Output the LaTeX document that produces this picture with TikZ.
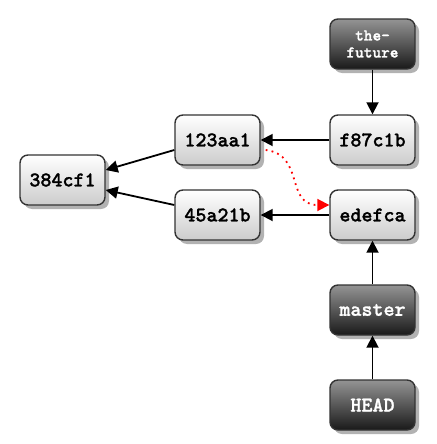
\documentclass[tikz,border=0pt]{standalone}
\usepackage{fontspec}
\setmonofont{lmmonolt10-regular.otf}[BoldFont=lmmonolt10-bold.otf, BoldFeatures={FakeBold=1.2}]
\usetikzlibrary{shadows,arrows.meta,calc}
\begin{document}
\begin{tikzpicture}[x=1pt,y=-1pt,
  commit/.style={rectangle, rounded corners=8pt, minimum width=85pt, minimum height=50pt,
    draw=black!80, line width=1.4pt, top color=white, bottom color=black!20,
    drop shadow={shadow xshift=4pt, shadow yshift=-4pt, fill=black!30, opacity=1},
    font=\ttfamily\bfseries\fontsize{21}{21}\selectfont, inner sep=0pt},
  refbox/.style={commit, top color=black!42, bottom color=black!90, text=white},
  arr/.style={line width=1.8pt, -{Triangle[length=12pt,width=12pt]}},
  redarr/.style={red, line width=1.8pt, dash pattern=on 1.8pt off 4.2pt, -{Triangle[length=12pt,width=12pt]}}
]
\useasboundingbox (0,0) rectangle (436,444);
\node[commit] (c384) at (62.5,180) {384cf1};
\node[commit] (c123) at (217.5,140) {123aa1};
\node[commit] (c45a) at (217.5,215) {45a21b};
\node[commit] (cf87) at (372.5,140) {f87c1b};
\node[commit] (cede) at (372.5,215) {edefca};
\node[refbox, align=center, font=\ttfamily\bfseries\fontsize{16.5}{17}\selectfont] (future) at (372.5,44) {the-\\future};
\node[refbox] (master) at (372.5,310) {master};
\node[refbox] (head) at (372.5,405) {HEAD};

\draw[arr] ($(c123.west)+(0,10)$) -- ($(c384.east)+(0,-10)$);
\draw[arr] ($(c45a.west)+(0,-10)$) -- ($(c384.east)+(0,10)$);
\draw[arr] (cf87) -- (c123);
\draw[arr] (cede) -- (c45a);
\draw[arr] (future) -- (cf87);
\draw[arr] (master) -- (cede);
\draw[arr] (head) -- (master);
\coordinate (rs) at ($(c123.east)+(5,10)$);
\coordinate (re) at ($(cede.west)+(0,-10)$);
\draw[redarr] (rs) .. controls (305,155) and (285,205) .. (re);
\end{tikzpicture}
\end{document}
